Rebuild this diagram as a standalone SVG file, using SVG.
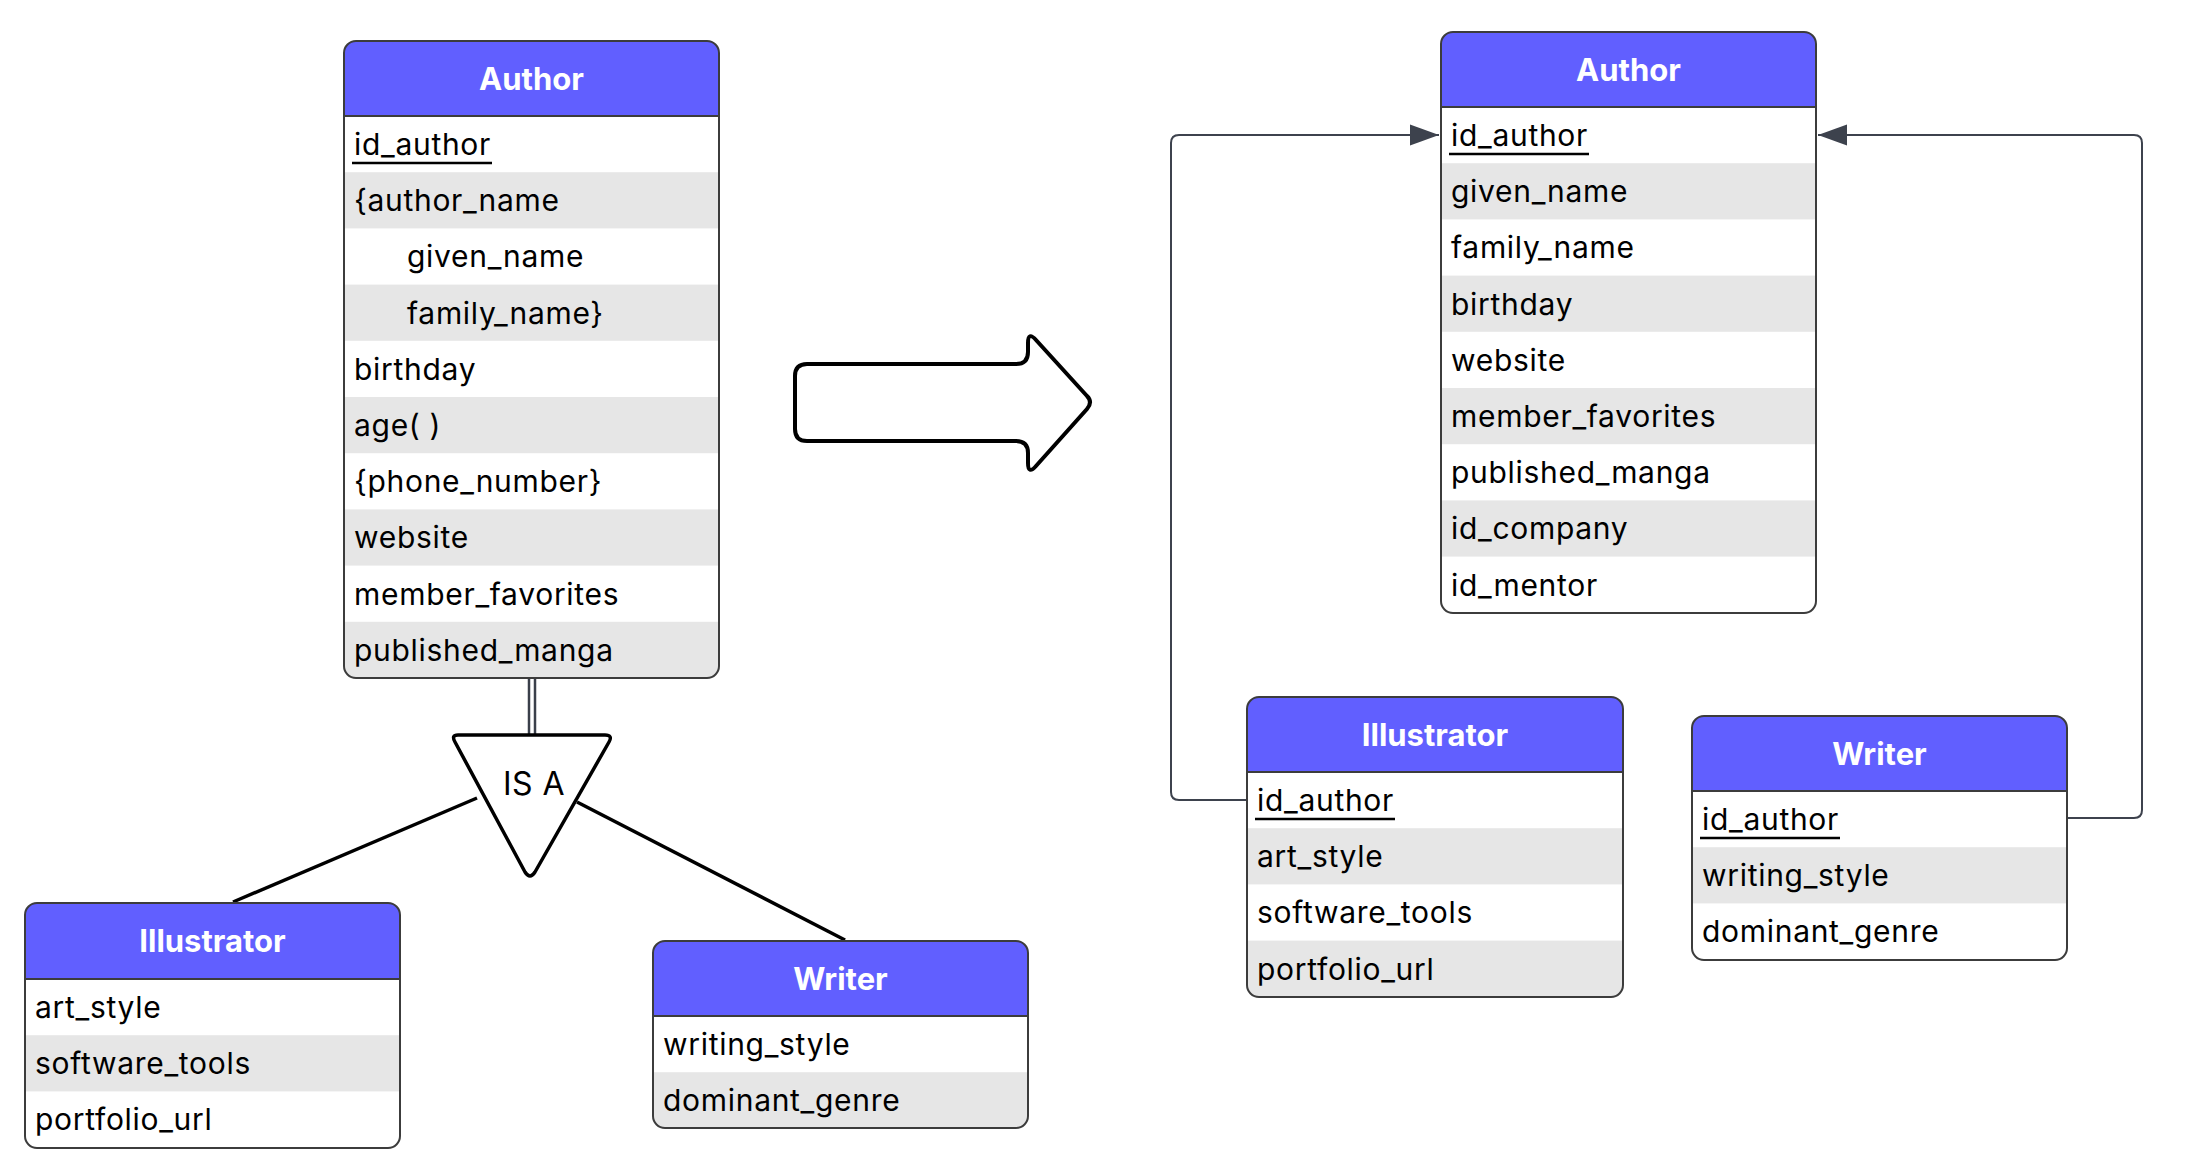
<svg xmlns="http://www.w3.org/2000/svg" width="2187" height="1170" viewBox="0 0 2187 1170">
  <style>
    .hdr { fill: #615fff; }
    .alt { fill: #e6e6e6; }
    .frame { fill: none; stroke: #3c3c3c; stroke-width: 2; }
    .sep { stroke: #3c3c3c; stroke-width: 2; }
    .title { font-family: Inter, "Liberation Sans", sans-serif; font-size: 31px; font-weight: 700; fill: #ffffff; text-anchor: middle; }
    .attr { font-family: Inter, "Liberation Sans", sans-serif; font-size: 30px; letter-spacing: 0.7px; fill: #000000; }
    .key { stroke: #000000; stroke-width: 2.5; }
    .link { fill: none; stroke: #3d424d; stroke-width: 2; }
    .isa { fill: none; stroke: #000000; stroke-width: 3.5; }
    .rail { stroke: #3a3f4a; stroke-width: 2.5; }
  </style>
  <defs>
    <clipPath id="c-auth-l"><rect x="0" y="0" width="375" height="637" rx="12"/></clipPath>
    <clipPath id="c-ill-l"><rect x="0" y="0" width="375" height="245" rx="12"/></clipPath>
    <clipPath id="c-wri-l"><rect x="0" y="0" width="375" height="187" rx="12"/></clipPath>
    <clipPath id="c-auth-r"><rect x="0" y="0" width="375" height="581" rx="12"/></clipPath>
    <clipPath id="c-ill-r"><rect x="0" y="0" width="376" height="300" rx="12"/></clipPath>
    <clipPath id="c-wri-r"><rect x="0" y="0" width="375" height="244" rx="12"/></clipPath>
    <marker id="head" markerWidth="30" markerHeight="22" refX="29" refY="11" orient="auto" markerUnits="userSpaceOnUse">
      <path d="M0,0.5 L29,11 L0,21.5 Z" fill="#3d424d"/>
    </marker>
  </defs>

  <rect x="0" y="0" width="2187" height="1170" fill="#ffffff"/>

  <!-- connectors -->
  <g id="connectors">
    <line class="rail" x1="529" y1="678" x2="529" y2="736"/>
    <line class="rail" x1="535" y1="678" x2="535" y2="736"/>
    <line x1="477" y1="798" x2="233" y2="902" stroke="#000" stroke-width="3.5"/>
    <line x1="577" y1="802" x2="845" y2="940" stroke="#000" stroke-width="3.5"/>
    <path class="link" d="M1247,800 H1179 Q1171,800 1171,792 V143 Q1171,135 1179,135 H1439" marker-end="url(#head)"/>
    <path class="link" d="M2067,818 H2134 Q2142,818 2142,810 V143 Q2142,135 2134,135 H1818" marker-end="url(#head)"/>
  </g>

  <!-- IS A specialisation triangle -->
  <g id="isa">
    <path class="isa" stroke-linejoin="round" d="M458,735 H605 Q613,735 609,742 L535,872 Q530,880 525,872 L455,742 Q451,735 458,735 Z" style="fill:#ffffff"/>
    <text x="534" y="795" font-family="Inter, 'Liberation Sans', sans-serif" font-size="32" letter-spacing="0.5" text-anchor="middle" fill="#000">IS A</text>
  </g>

  <!-- transformation arrow -->
  <g id="transform-arrow">
    <path d="M807,364 H1016 Q1028,364 1028,352 V343 Q1028,331 1036,340 L1087,396 Q1093,402 1087,409 L1036,466 Q1028,475 1028,463 V453 Q1028,441 1016,441 H807 Q795,441 795,429 V376 Q795,364 807,364 Z" fill="#ffffff" stroke="#000" stroke-width="4" stroke-linejoin="round"/>
  </g>

  <!-- conceptual Author -->
  <g id="author-conceptual" transform="translate(344,41)">
    <g clip-path="url(#c-auth-l)">
      <rect x="0" y="0" width="375" height="637" fill="#ffffff"/>
      <rect class="hdr" x="0" y="0" width="375" height="75"/>
      <rect class="alt" x="0" y="131.2" width="375" height="56.2"/>
      <rect class="alt" x="0" y="243.6" width="375" height="56.2"/>
      <rect class="alt" x="0" y="356" width="375" height="56.2"/>
      <rect class="alt" x="0" y="468.4" width="375" height="56.2"/>
      <rect class="alt" x="0" y="580.8" width="375" height="56.2"/>
    </g>
    <line class="sep" x1="0" y1="75" x2="375" y2="75"/>
    <rect class="frame" x="0" y="0" width="375" height="637" rx="12"/>
    <text class="title" x="187.5" y="49">Author</text>
    <text class="attr" x="10" y="114">id_author</text>
    <line class="key" x1="8" y1="122" x2="148" y2="122"/>
    <text class="attr" x="10" y="170.2">{author_name</text>
    <text class="attr" x="63" y="226.4">given_name</text>
    <text class="attr" x="63" y="282.6">family_name}</text>
    <text class="attr" x="10" y="338.8">birthday</text>
    <text class="attr" x="10" y="395">age( )</text>
    <text class="attr" x="10" y="451.2">{phone_number}</text>
    <text class="attr" x="10" y="507.4">website</text>
    <text class="attr" x="10" y="563.6">member_favorites</text>
    <text class="attr" x="10" y="619.8">published_manga</text>
  </g>

  <!-- conceptual Illustrator -->
  <g id="illustrator-conceptual" transform="translate(25,903)">
    <g clip-path="url(#c-ill-l)">
      <rect x="0" y="0" width="375" height="245" fill="#ffffff"/>
      <rect class="hdr" x="0" y="0" width="375" height="76"/>
      <rect class="alt" x="0" y="132.2" width="375" height="56.2"/>
    </g>
    <line class="sep" x1="0" y1="76" x2="375" y2="76"/>
    <rect class="frame" x="0" y="0" width="375" height="245" rx="12"/>
    <text class="title" x="187.5" y="49">Illustrator</text>
    <text class="attr" x="10" y="115">art_style</text>
    <text class="attr" x="10" y="171.2">software_tools</text>
    <text class="attr" x="10" y="227.4">portfolio_url</text>
  </g>

  <!-- conceptual Writer -->
  <g id="writer-conceptual" transform="translate(653,941)">
    <g clip-path="url(#c-wri-l)">
      <rect x="0" y="0" width="375" height="187" fill="#ffffff"/>
      <rect class="hdr" x="0" y="0" width="375" height="75"/>
      <rect class="alt" x="0" y="131.2" width="375" height="56.2"/>
    </g>
    <line class="sep" x1="0" y1="75" x2="375" y2="75"/>
    <rect class="frame" x="0" y="0" width="375" height="187" rx="12"/>
    <text class="title" x="187.5" y="49">Writer</text>
    <text class="attr" x="10" y="114">writing_style</text>
    <text class="attr" x="10" y="170.2">dominant_genre</text>
  </g>

  <!-- relational Author -->
  <g id="author-relational" transform="translate(1441,32)">
    <g clip-path="url(#c-auth-r)">
      <rect x="0" y="0" width="375" height="581" fill="#ffffff"/>
      <rect class="hdr" x="0" y="0" width="375" height="75"/>
      <rect class="alt" x="0" y="131.2" width="375" height="56.2"/>
      <rect class="alt" x="0" y="243.6" width="375" height="56.2"/>
      <rect class="alt" x="0" y="356" width="375" height="56.2"/>
      <rect class="alt" x="0" y="468.4" width="375" height="56.2"/>
    </g>
    <line class="sep" x1="0" y1="75" x2="375" y2="75"/>
    <rect class="frame" x="0" y="0" width="375" height="581" rx="12"/>
    <text class="title" x="187.5" y="49">Author</text>
    <text class="attr" x="10" y="114">id_author</text>
    <line class="key" x1="8" y1="122" x2="148" y2="122"/>
    <text class="attr" x="10" y="170.2">given_name</text>
    <text class="attr" x="10" y="226.4">family_name</text>
    <text class="attr" x="10" y="282.6">birthday</text>
    <text class="attr" x="10" y="338.8">website</text>
    <text class="attr" x="10" y="395">member_favorites</text>
    <text class="attr" x="10" y="451.2">published_manga</text>
    <text class="attr" x="10" y="507.4">id_company</text>
    <text class="attr" x="10" y="563.6">id_mentor</text>
  </g>

  <!-- relational Illustrator -->
  <g id="illustrator-relational" transform="translate(1247,697)">
    <g clip-path="url(#c-ill-r)">
      <rect x="0" y="0" width="376" height="300" fill="#ffffff"/>
      <rect class="hdr" x="0" y="0" width="376" height="75"/>
      <rect class="alt" x="0" y="131.2" width="376" height="56.2"/>
      <rect class="alt" x="0" y="243.6" width="376" height="56.4"/>
    </g>
    <line class="sep" x1="0" y1="75" x2="376" y2="75"/>
    <rect class="frame" x="0" y="0" width="376" height="300" rx="12"/>
    <text class="title" x="188" y="49">Illustrator</text>
    <text class="attr" x="10" y="114">id_author</text>
    <line class="key" x1="8" y1="122" x2="148" y2="122"/>
    <text class="attr" x="10" y="170.2">art_style</text>
    <text class="attr" x="10" y="226.4">software_tools</text>
    <text class="attr" x="10" y="282.6">portfolio_url</text>
  </g>

  <!-- relational Writer -->
  <g id="writer-relational" transform="translate(1692,716)">
    <g clip-path="url(#c-wri-r)">
      <rect x="0" y="0" width="375" height="244" fill="#ffffff"/>
      <rect class="hdr" x="0" y="0" width="375" height="75"/>
      <rect class="alt" x="0" y="131.2" width="375" height="56.2"/>
    </g>
    <line class="sep" x1="0" y1="75" x2="375" y2="75"/>
    <rect class="frame" x="0" y="0" width="375" height="244" rx="12"/>
    <text class="title" x="187.5" y="49">Writer</text>
    <text class="attr" x="10" y="114">id_author</text>
    <line class="key" x1="8" y1="122" x2="148" y2="122"/>
    <text class="attr" x="10" y="170.2">writing_style</text>
    <text class="attr" x="10" y="226.4">dominant_genre</text>
  </g>
</svg>
